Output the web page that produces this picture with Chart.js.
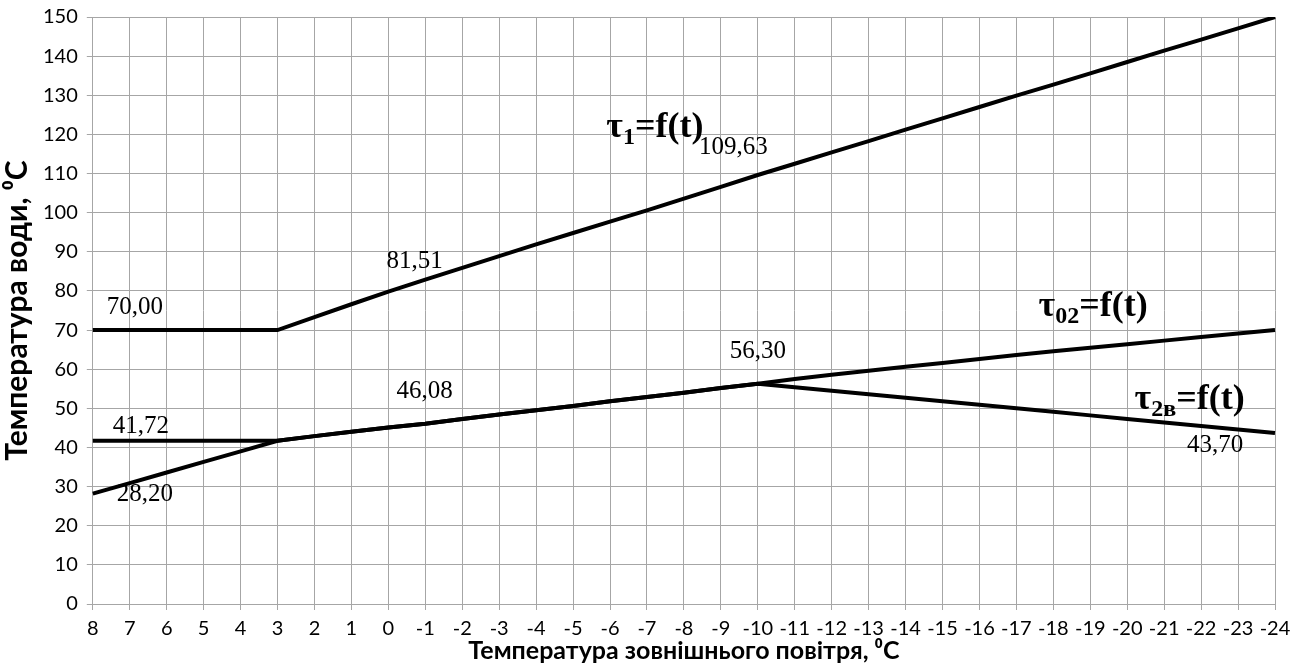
<!DOCTYPE html>
<html>
<head>
<meta charset="utf-8">
<script src="https://cdn.jsdelivr.net/npm/chart.js@4"></script>
<style>
    html, body { margin: 0; padding: 0; background: #fff; }
    #wrap { width: 1306px; height: 671px; }
</style>
</head>
<body>
<div id="wrap"><canvas id="heatChart"></canvas></div>
<script>
// Outdoor temperature (x axis), from +8 down to -24
const outdoorTemps = ['8', '7', '6', '5', '4', '3', '2', '1', '0', '-1', '-2', '-3', '-4', '-5', '-6', '-7',
    '-8', '-9', '-10', '-11', '-12', '-13', '-14', '-15', '-16', '-17', '-18', '-19', '-20', '-21', '-22', '-23', '-24'];

// Supply water temperature
const tau1 = [70, 70, 70, 70, 70, 70, 73.3, 76.6, 79.8, 82.9, 85.9, 88.9, 91.9, 94.8, 97.7, 100.6,
    103.6, 106.6, 109.63, 112.5, 115.4, 118.3, 121.2, 124.1, 127.0, 129.9, 132.7, 135.6, 138.5, 141.4, 144.2, 147.1, 150];

// Return water after heating
const tau02 = [41.72, 41.72, 41.72, 41.72, 41.72, 41.72, 42.9, 44.0, 45.1, 46.08, 47.3, 48.4, 49.5, 50.6, 51.8, 52.9,
    54.0, 55.2, 56.30, 57.5, 58.6, 59.6, 60.6, 61.6, 62.6, 63.6, 64.6, 65.5, 66.4, 67.3, 68.2, 69.1, 70.0];

// Return water after ventilation
const tau2v = [28.20, 30.9, 33.6, 36.3, 39.0, 41.72, 42.9, 44.0, 45.1, 46.08, 47.3, 48.4, 49.5, 50.6, 51.8, 52.9,
    54.0, 55.2, 56.30, 55.4, 54.5, 53.6, 52.7, 51.8, 50.9, 50.0, 49.1, 48.2, 47.3, 46.4, 45.5, 44.6, 43.70];

const yTicks = [0, 150, 10]; // min, max, step

// Value labels written on the plot
const valueTexts = ['70,00', '41,72', '28,20', '81,51', '46,08', '56,30', '109,63', '43,70'];
// Where they sit: x as category index, y in axis units
const valueSpots = [[1.14, 75.8], [1.3, 45.3], [1.41, 27.9], [8.71, 87.6], [8.98, 54.3], [18.0, 64.5], [17.34, 116.7], [30.38, 40.4]];

// Curve names: tau, subscript, rest
const curveNames = [['τ', '1', '=f(t)'], ['τ', '02', '=f(t)'], ['τ', '2в', '=f(t)']];
const curveSpots = [[13.9, 119.4], [25.6, 73.5], [28.2, 49.9]];

const textPlugin = {
    id: 'plotTexts',
    afterDatasetsDraw(chart) {
        const ctx = chart.ctx;
        const xs = chart.scales.x;
        const ys = chart.scales.y;
        ctx.save();
        ctx.fillStyle = '#000';

        ctx.font = '25px "Liberation Serif", "Times New Roman", serif';
        ctx.textAlign = 'center';
        ctx.textBaseline = 'middle';
        valueTexts.forEach((t, i) => {
            const [xi, v] = valueSpots[i];
            ctx.fillText(t, xs.getPixelForValue(xi), ys.getPixelForValue(v));
        });

        ctx.textAlign = 'left';
        ctx.textBaseline = 'alphabetic';
        curveNames.forEach((parts, i) => {
            let x = xs.getPixelForValue(curveSpots[i][0]);
            const y = ys.getPixelForValue(curveSpots[i][1]);
            ctx.font = 'bold 36px "Liberation Serif", serif';
            ctx.fillText(parts[0], x, y);
            x += ctx.measureText(parts[0]).width;
            ctx.font = 'bold 24px "Liberation Serif", serif';
            ctx.fillText(parts[1], x, y + 7);
            x += ctx.measureText(parts[1]).width;
            ctx.font = 'bold 36px "Liberation Serif", serif';
            ctx.fillText(parts[2], x, y);
        });
        ctx.restore();
    }
};

const lineStyle = {
    borderColor: '#000',
    borderWidth: 4,
    pointRadius: 0,
    tension: 0,
    fill: false
};

const ctx = document.getElementById('heatChart').getContext('2d');
new Chart(ctx, {
    type: 'line',
    data: {
        labels: outdoorTemps,
        datasets: [
            { label: 'τ1', data: tau1, ...lineStyle },
            { label: 'τ02', data: tau02, ...lineStyle },
            { label: 'τ2в', data: tau2v, ...lineStyle }
        ]
    },
    options: {
        responsive: true,
        maintainAspectRatio: false,
        animation: false,
        layout: { padding: { left: 2, right: 31, top: -1, bottom: 8 } },
        plugins: {
            legend: { display: false },
            tooltip: { enabled: false }
        },
        scales: {
            x: {
                grid: { color: '#a6a6a6', lineWidth: 1, tickLength: 6 },
                border: { color: '#a6a6a6' },
                ticks: {
                    color: '#000',
                    autoSkip: false,
                    maxRotation: 0,
                    padding: 9,
                    font: { family: 'Lato', size: 20, lineHeight: 1 }
                },
                title: {
                    display: true,
                    text: 'Температура зовнішнього повітря, ⁰С',
                    color: '#000',
                    padding: { top: -10, bottom: 0 },
                    font: { family: 'Lato', size: 25, weight: 'bold', lineHeight: 1 }
                }
            },
            y: {
                min: yTicks[0],
                max: yTicks[1],
                grid: { color: '#a6a6a6', lineWidth: 1, tickLength: 6 },
                border: { color: '#a6a6a6' },
                ticks: {
                    stepSize: yTicks[2],
                    color: '#000',
                    padding: 9,
                    font: { family: 'Lato', size: 20, lineHeight: 0.8 }
                },
                title: {
                    display: true,
                    text: 'Температура води, ⁰С',
                    color: '#000',
                    padding: { top: 0, bottom: 2 },
                    font: { family: 'Lato', size: 30, weight: 'bold', lineHeight: 1 }
                }
            }
        }
    },
    plugins: [textPlugin]
});
</script>
</body>
</html>
